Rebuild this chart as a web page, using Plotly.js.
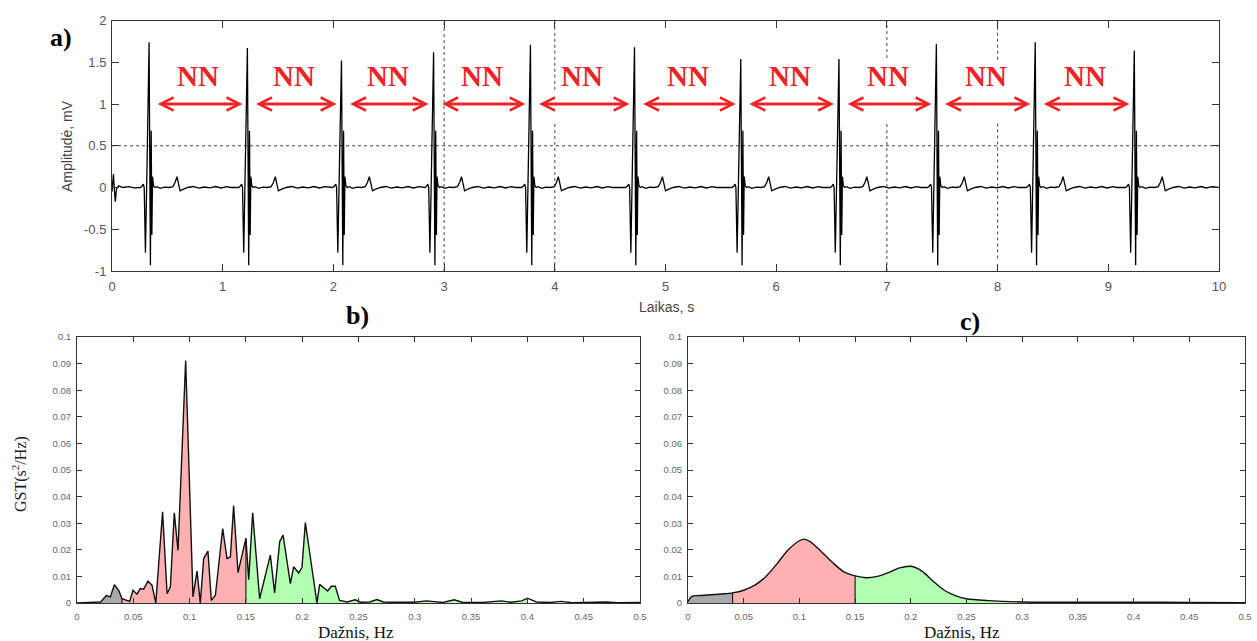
<!DOCTYPE html>
<html>
<head>
<meta charset="utf-8">
<script src="https://cdn.plot.ly/plotly-3.0.1.min.js"></script>
<style>html,body{margin:0;padding:0;background:#fff}#chart{width:1257px;height:641px}</style>
</head>
<body>
<div id="chart"></div>
<script>
// ---------- Panel a: ECG ----------
const rPeakTimes = [0.335, 1.223, 2.073, 2.905, 3.78, 4.72, 5.68, 6.567, 7.447, 8.34, 9.235];
const rPeakAmps  = [1.74, 1.67, 1.52, 1.62, 1.71, 1.68, 1.54, 1.54, 1.72, 1.74, 1.64];
// one beat, time relative to R peak (s) and amplitude (mV); R value replaced by rPeakAmps
const beatDt    = [-0.08, -0.065, -0.052, -0.044, -0.033, -0.018, 0, 0.012, 0.019, 0.025, 0.031, 0.04, 0.052, 0.07, 0.1, 0.14, 0.18, 0.215, 0.235, 0.252, 0.265, 0.28, 0.31, 0.35, 0.4, 0.45, 0.5, 0.55, 0.6, 0.65, 0.7, 0.74];
const beatShape = [0.0, 0.015, 0.04, 0.0, -0.78, 0.3, 1.7, -0.93, 0.68, -0.57, 0.13, 0.02, 0.0, 0.01, -0.01, 0.005, 0.0, 0.01, 0.06, 0.13, 0.04, -0.04, -0.02, 0.0, 0.012, -0.008, 0.006, -0.004, 0.012, -0.006, 0.01, 0.0];
const startT = [0, 0.006, 0.013, 0.02, 0.03, 0.04, 0.06, 0.1, 0.15, 0.2, 0.25];
const startV = [-0.05, 0.05, 0.16, 0.0, -0.17, -0.02, 0.02, 0.0, 0.01, -0.005, 0.0];
const endT = [10];
const endV = [0.0];
const xTicksA = [0,1,2,3,4,5,6,7,8,9,10];
const yTicksA = [-1,-0.5,0,0.5,1,1.5,2];
const yTickTextA = ['-1','-0.5','0','0.5','1','1.5','2'];

// ---------- Panel b: periodogram ----------
const freqB = [0, 0.01, 0.016, 0.021, 0.026, 0.0296, 0.0332, 0.037, 0.04, 0.0444, 0.0468, 0.0497, 0.0533, 0.0562, 0.0592, 0.063, 0.0666, 0.070, 0.076, 0.080, 0.0829, 0.0864, 0.0897, 0.0965, 0.103, 0.1066, 0.1095, 0.1125, 0.1163, 0.1193, 0.1229, 0.1294, 0.1332, 0.1362, 0.1391, 0.143, 0.15, 0.1525, 0.156, 0.1622, 0.1717, 0.1755, 0.18, 0.183, 0.1895, 0.1924, 0.1969, 0.1998, 0.2028, 0.2131, 0.2155, 0.2226, 0.2259, 0.2294, 0.2332, 0.24, 0.247, 0.252, 0.26, 0.2664, 0.272, 0.28, 0.29, 0.3, 0.31, 0.317, 0.325, 0.335, 0.342, 0.36, 0.377, 0.385, 0.395, 0.4, 0.408, 0.42, 0.43, 0.44, 0.46, 0.47, 0.48, 0.5];
const psdB  = [0, 0.0002, 0.0005, 0.0004, 0.0028, 0.0023, 0.0069, 0.0048, 0.0016, 0.001, 0.0006, 0.0048, 0.0033, 0.0054, 0.0052, 0.0082, 0.0067, 0, 0.0343, 0.0035, 0.006, 0.0339, 0.0198, 0.0912, 0.0023, 0.012, 0, 0.0167, 0.0195, 0.001, 0.0029, 0.028, 0.0167, 0.0173, 0.0366, 0.0114, 0.0243, 0.0088, 0.0339, 0.0016, 0.018, 0.0038, 0.023, 0.0255, 0.0073, 0.0136, 0.0113, 0.0133, 0.0302, 0, 0.007, 0.0045, 0.0063, 0.0063, 0.001, 0.0004, 0.0012, 0.0003, 0.0004, 0.0013, 0.0004, 0.0003, 0.0002, 0.0003, 0.0008, 0.0006, 0.0002, 0.0012, 0.0003, 0.0002, 0.0008, 0.0003, 0.0008, 0.0018, 0.0004, 0.0002, 0.0006, 0.0001, 0.0002, 0.0004, 0.0001, 0.0002];

// ---------- Panel c: AR spectrum ----------
const freqC = [0, 0.0035, 0.01, 0.02, 0.03, 0.04, 0.05, 0.06, 0.07, 0.08, 0.09, 0.1, 0.104, 0.11, 0.12, 0.13, 0.14, 0.15, 0.16, 0.17, 0.18, 0.19, 0.2, 0.21, 0.22, 0.23, 0.24, 0.25, 0.27, 0.3, 0.35, 0.4, 0.45, 0.5];
const psdC  = [0.0005, 0.0025, 0.0028, 0.0031, 0.0034, 0.0038, 0.0048, 0.0067, 0.010, 0.0148, 0.020, 0.0234, 0.024, 0.023, 0.0192, 0.0151, 0.0117, 0.0102, 0.0095, 0.010, 0.0114, 0.0132, 0.0138, 0.012, 0.0082, 0.0048, 0.0028, 0.0016, 0.0009, 0.0004, 0.0003, 0.0003, 0.0002, 0.0001];

// frequency bands
const bandNames  = ['VLF', 'LF', 'HF'];
const bandLo     = [0, 0.04, 0.15];
const bandHi     = [0.04, 0.15, 0.4];
const bandColors = ['#a9a9a9', '#ffb1b1', '#b2ffb2'];
const freqTicks = [0,0.05,0.1,0.15,0.2,0.25,0.3,0.35,0.4,0.45,0.5];
const psdTicks  = [0,0.01,0.02,0.03,0.04,0.05,0.06,0.07,0.08,0.09,0.1];

// ---------- build ECG ----------
const ecgT = startT.slice(), ecgV = startV.slice();
rPeakTimes.forEach((r, i) => {
  beatDt.forEach((d, j) => {
    ecgT.push(r + d);
    ecgV.push(d === 0 ? rPeakAmps[i] : beatShape[j]);
  });
});
endT.forEach((t, k) => { ecgT.push(t); ecgV.push(endV[k]); });

const traces = [];
traces.push({x: ecgT, y: ecgV, xaxis: 'x', yaxis: 'y', mode: 'lines', line: {color: '#000', width: 1.3}, hoverinfo: 'skip'});

function bandTraces(freq, psd, xa, ya, shape) {
  bandLo.forEach((lo, b) => {
    const hi = bandHi[b];
    const xs = [], ys = [];
    freq.forEach((f, i) => { if (f >= lo && f <= hi) { xs.push(f); ys.push(psd[i]); } });
    traces.push({x: xs, y: ys, xaxis: xa, yaxis: ya, mode: 'lines', fill: 'tozeroy',
      fillcolor: bandColors[b], line: {width: 0, shape: shape}, hoverinfo: 'skip', name: bandNames[b]});
  });
  traces.push({x: freq, y: psd, xaxis: xa, yaxis: ya, mode: 'lines',
    line: {color: '#111', width: 1.4, shape: shape, smoothing: 0.8}, hoverinfo: 'skip'});
  // band boundary lines
  [bandHi[0], bandHi[1]].forEach(fb => {
    const i = freq.indexOf(fb);
    if (i >= 0) traces.push({x: [fb, fb], y: [0, psd[i]], xaxis: xa, yaxis: ya, mode: 'lines',
      line: {color: '#111', width: 1.1}, hoverinfo: 'skip'});
  });
}
bandTraces(freqB, psdB, 'x2', 'y2', 'linear');
bandTraces(freqC, psdC, 'x3', 'y3', 'spline');

// ---------- annotations ----------
const red = '#ee2326';
const annotations = [];
for (let i = 0; i < rPeakTimes.length - 1; i++) {
  const a = rPeakTimes[i], b = rPeakTimes[i + 1];
  annotations.push({xref: 'x', yref: 'y', x: b - 0.045, y: 1.0, ax: a + 0.065, ay: 1.0, axref: 'x', ayref: 'y',
    text: '', showarrow: true, arrowside: 'end+start', arrowhead: 5, arrowsize: 0.85, arrowwidth: 3, arrowcolor: red});
  annotations.push({xref: 'x', yref: 'y', x: (a + b) / 2, y: 1.34, text: 'NN', showarrow: false,
    xanchor: 'center', yanchor: 'middle',
    font: {family: 'Liberation Serif', size: 29, color: red, weight: 'bold'}});
}
const W = 1257, H = 641;
function px(x) { return x / W; }
function py(y) { return 1 - y / H; }
function label(x, y, text, font, angle) {
  const a = {xref: 'paper', yref: 'paper', x: px(x), y: py(y), text: text, showarrow: false,
    xanchor: 'center', yanchor: 'middle', font: font};
  if (angle) a.textangle = angle;
  annotations.push(a);
}
const serifBold = {family: 'Liberation Serif', size: 26, color: '#000', weight: 'bold'};
label(61, 37, '<b>a)</b>', serifBold);
label(358, 316, '<b>b)</b>', serifBold);
label(970, 322, '<b>c)</b>', serifBold);
label(67, 146, 'Amplitudė, mV', {family: 'Liberation Sans', size: 14, color: '#444'}, -90);
label(666, 307, 'Laikas, s', {family: 'Liberation Sans', size: 14, color: '#444'});
label(19, 474, 'GST(s<sup>2</sup>/Hz)', {family: 'Liberation Serif', size: 16, color: '#1a1a2a'}, -90);
label(356, 632, 'Dažnis, Hz', {family: 'Liberation Serif', size: 17, color: '#111'});
label(962, 632, 'Dažnis, Hz', {family: 'Liberation Serif', size: 17, color: '#111'});

// dotted grid fragments in panel a
const dotLine = {color: '#444', width: 1, dash: 'dot'};
const shapes = [
  {type: 'line', xref: 'x', yref: 'y', x0: 0, x1: 10, y0: 0.5, y1: 0.5, line: dotLine, layer: 'below'},
  {type: 'line', xref: 'x', yref: 'y', x0: 3, x1: 3, y0: -1, y1: 2, line: dotLine, layer: 'below'},
  {type: 'line', xref: 'x', yref: 'y', x0: 4, x1: 4, y0: 1.17, y1: 2, line: dotLine, layer: 'below'},
  {type: 'line', xref: 'x', yref: 'y', x0: 4, x1: 4, y0: -1, y1: 0.79, line: dotLine, layer: 'below'},
  {type: 'line', xref: 'x', yref: 'y', x0: 7, x1: 7, y0: 1.55, y1: 2, line: dotLine, layer: 'below'},
  {type: 'line', xref: 'x', yref: 'y', x0: 7, x1: 7, y0: -1, y1: 0.78, line: dotLine, layer: 'below'},
  {type: 'line', xref: 'x', yref: 'y', x0: 8, x1: 8, y0: 1.53, y1: 2, line: dotLine, layer: 'below'},
  {type: 'line', xref: 'x', yref: 'y', x0: 8, x1: 8, y0: -0.85, y1: 0.8, line: dotLine, layer: 'below'}
];

const tickFontA = {family: 'Liberation Sans', size: 13, color: '#555'};
const tickFontB = {family: 'Liberation Sans', size: 9.5, color: '#666'};
const axBase = {showgrid: false, zeroline: false, showline: true, linecolor: '#333', linewidth: 1,
  mirror: 'ticks', ticks: 'inside', tickcolor: '#333', fixedrange: true};

const layout = {
  width: W, height: H, margin: {l: 0, r: 0, t: 0, b: 0}, paper_bgcolor: '#fff', plot_bgcolor: '#fff',
  showlegend: false,
  xaxis: Object.assign({}, axBase, {domain: [px(112), px(1219)], range: [0, 10], tickvals: xTicksA, ticklen: 7,
    tickfont: tickFontA, anchor: 'y', ticklabelstandoff: 3}),
  yaxis: Object.assign({}, axBase, {domain: [py(271), py(20.5)], range: [-1, 2], tickvals: yTicksA, ticktext: yTickTextA,
    ticklen: 7, tickfont: tickFontA, anchor: 'x', ticklabelstandoff: 2}),
  xaxis2: Object.assign({}, axBase, {domain: [px(77), px(640)], range: [0, 0.5], tickvals: freqTicks, ticklen: 5,
    tickfont: tickFontB, anchor: 'y2', ticklabelstandoff: 5}),
  yaxis2: Object.assign({}, axBase, {domain: [py(603), py(337)], range: [0, 0.1], tickvals: psdTicks, ticklen: 5,
    tickfont: tickFontB, anchor: 'x2', ticklabelstandoff: 3}),
  xaxis3: Object.assign({}, axBase, {domain: [px(688), px(1245)], range: [0, 0.5], tickvals: freqTicks, ticklen: 5,
    tickfont: tickFontB, anchor: 'y3', ticklabelstandoff: 5}),
  yaxis3: Object.assign({}, axBase, {domain: [py(603), py(337)], range: [0, 0.1], tickvals: psdTicks, ticklen: 5,
    tickfont: tickFontB, anchor: 'x3', ticklabelstandoff: 3}),
  annotations: annotations,
  shapes: shapes
};

Plotly.newPlot('chart', traces, layout, {staticPlot: true, displayModeBar: false});
</script>
</body>
</html>
